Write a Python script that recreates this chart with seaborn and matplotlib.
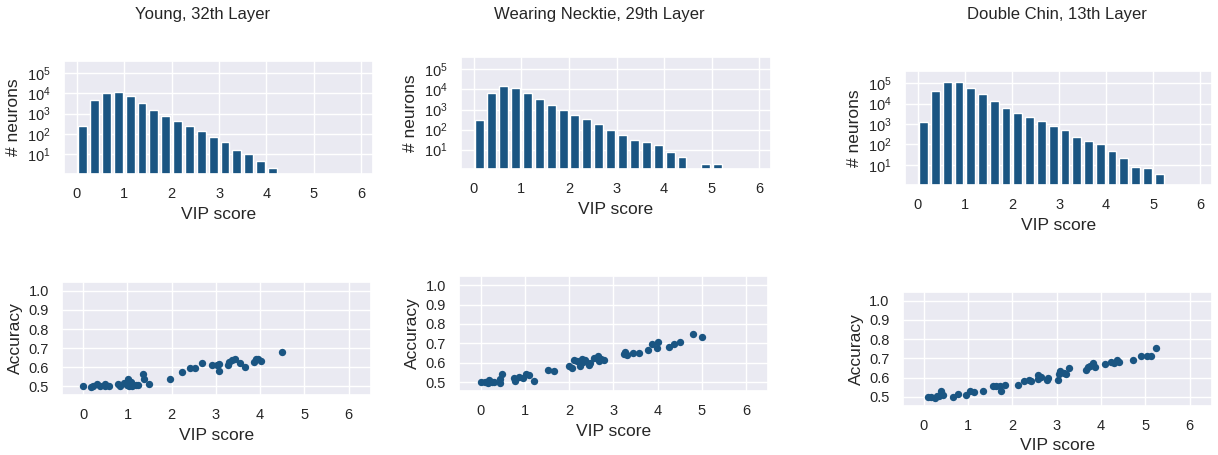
import numpy as np
import pandas as pd
import seaborn as sns
import matplotlib
matplotlib.use("Agg")
import matplotlib.pyplot as plt

# -------------------------
# Data
# -------------------------
titles = ["Young, 32th Layer", "Wearing Necktie, 29th Layer", "Double Chin, 13th Layer"]
bin_width = 0.25

# neuron counts per VIP-score bin (bins of 0.25 starting at 0)
young_counts = [235, 4600, 10700, 11000, 6900, 3400, 1500, 740, 410, 235,
                145, 69, 38, 16, 10, 4.4, 2]
necktie_counts = [295, 6800, 14700, 11600, 6800, 3400, 1650, 930, 520, 340,
                  200, 100, 56, 32, 25, 18, 7.4, 4.2, 0, 2, 2]
chin_counts = [1230, 39000, 112000, 108000, 57000, 30000, 12700, 6000, 3600, 2100,
               1380, 780, 500, 245, 150, 103, 50, 21, 8.3, 7.4, 3.6]

# VIP score vs accuracy
young_vip = [0.0, 0.18, 0.23, 0.32, 0.39, 0.49, 0.5, 0.59, 0.78, 0.84, 0.92, 0.99,
             1.02, 1.03, 1.07, 1.1, 1.2, 1.24, 1.35, 1.37, 1.49, 1.97, 2.23, 2.41,
             2.53, 2.68, 2.91, 3.02, 3.08, 3.06, 3.27, 3.29, 3.36, 3.44, 3.55, 3.65,
             3.85, 3.91, 3.96, 4.02, 4.49]
young_acc = [0.50, 0.495, 0.505, 0.512, 0.50, 0.512, 0.50, 0.502, 0.512, 0.50, 0.517, 0.509,
             0.538, 0.50, 0.522, 0.50, 0.509, 0.509, 0.563, 0.538, 0.514, 0.538, 0.578, 0.596,
             0.599, 0.622, 0.613, 0.613, 0.583, 0.618, 0.610, 0.630, 0.636, 0.644, 0.622, 0.604,
             0.629, 0.646, 0.644, 0.634, 0.679]

necktie_vip = [0.0, 0.09, 0.16, 0.2, 0.25, 0.3, 0.44, 0.45, 0.49, 0.76, 0.78, 0.87,
               0.95, 1.02, 1.1, 1.21, 1.52, 1.66, 2.0, 2.07, 2.11, 2.17, 2.24, 2.29,
               2.32, 2.35, 2.44, 2.48, 2.56, 2.65, 2.67, 2.71, 2.78, 3.23, 3.27, 3.3,
               3.45, 3.57, 3.79, 3.87, 3.98, 4.01, 4.26, 4.37, 4.5, 4.8, 5.01]
necktie_acc = [0.50, 0.50, 0.497, 0.51, 0.50, 0.50, 0.497, 0.514, 0.542, 0.519, 0.507, 0.525,
               0.52, 0.542, 0.534, 0.508, 0.564, 0.559, 0.581, 0.575, 0.615, 0.61, 0.585, 0.619,
               0.602, 0.612, 0.586, 0.598, 0.622, 0.632, 0.607, 0.620, 0.615, 0.646, 0.653, 0.642,
               0.649, 0.649, 0.666, 0.695, 0.678, 0.707, 0.683, 0.695, 0.707, 0.746, 0.731]

chin_vip = [0.09, 0.17, 0.24, 0.29, 0.35, 0.39, 0.43, 0.65, 0.77, 0.94, 1.03, 1.12,
            1.34, 1.55, 1.63, 1.72, 1.74, 1.82, 2.13, 2.27, 2.38, 2.42, 2.57, 2.58,
            2.64, 2.79, 2.81, 3.02, 3.04, 3.07, 3.17, 3.22, 3.28, 3.65, 3.71, 3.76,
            3.81, 3.86, 4.08, 4.23, 4.29, 4.35, 4.4, 4.72, 4.91, 5.03, 5.12, 5.25]
chin_acc = [0.497, 0.497, 0.493, 0.503, 0.507, 0.53, 0.509, 0.497, 0.517, 0.512, 0.53, 0.524,
            0.531, 0.554, 0.557, 0.559, 0.533, 0.562, 0.564, 0.583, 0.587, 0.582, 0.595, 0.616,
            0.602, 0.587, 0.599, 0.59, 0.617, 0.637, 0.625, 0.617, 0.651, 0.639, 0.653, 0.663,
            0.674, 0.653, 0.670, 0.682, 0.677, 0.694, 0.682, 0.691, 0.715, 0.714, 0.714, 0.752]

all_counts = [young_counts, necktie_counts, chin_counts]
all_vip = [young_vip, necktie_vip, chin_vip]
all_acc = [young_acc, necktie_acc, chin_acc]

# -------------------------
# Style
# -------------------------
sns.set_theme(style="darkgrid")
plt.rcParams["font.family"] = ["Liberation Sans", "DejaVu Sans"]
color = "#1a5582"

W, H = 1218, 455
fig = plt.figure(figsize=(W / 100, H / 100), dpi=100)


def add_ax(left, right, top, bottom):
    return fig.add_axes([left / W, 1 - bottom / H, (right - left) / W, (bottom - top) / H])


# pixel boxes (left, right, top, bottom) for each panel
hist_boxes = [(64, 372.7, 60.7, 174), (461, 770.7, 57.3, 169.3), (905, 1211.7, 70.7, 185)]
scat_boxes = [(62, 370.7, 281.7, 395.3), (459.3, 768.3, 276, 391), (902.7, 1211.7, 291.7, 405.7)]
title_x = [203, 599, 1057]

for i in range(3):
    counts = all_counts[i]
    centers = [(k + 0.5) * bin_width for k in range(len(counts))]
    hist_df = pd.DataFrame({"vip": centers, "n": counts})

    ax = add_ax(*hist_boxes[i])
    sns.histplot(data=hist_df, x="vip", weights="n", binwidth=bin_width,
                 binrange=(0, len(counts) * bin_width), shrink=0.75,
                 color=color, alpha=1, edgecolor="white", linewidth=1, ax=ax)
    ax.set_yscale("log")
    ax.set_ylim(1.05, 4e5)
    ax.set_xlim(-0.27, 6.24)
    ax.set_xticks(range(7))
    ax.set_yticks([1e1, 1e2, 1e3, 1e4, 1e5])
    ax.minorticks_off()
    ax.set_xlabel("VIP score", fontsize=12.5)
    ax.set_ylabel("# neurons", fontsize=12.5)
    ax.tick_params(labelsize=10.5)

    scat_df = pd.DataFrame({"vip": all_vip[i], "acc": all_acc[i]})
    ax2 = add_ax(*scat_boxes[i])
    sns.scatterplot(data=scat_df, x="vip", y="acc", color=color, s=28,
                    linewidth=0, ax=ax2)
    ax2.set_xlim(-0.48, 6.5)
    ax2.set_ylim(0.454, 1.047)
    ax2.set_xticks(range(7))
    ax2.set_yticks([0.5, 0.6, 0.7, 0.8, 0.9, 1.0])
    ax2.set_yticklabels(["0.5", "0.6", "0.7", "0.8", "0.9", "1.0"])
    ax2.set_xlabel("VIP score", fontsize=12.5)
    ax2.set_ylabel("Accuracy", fontsize=12.5)
    ax2.tick_params(labelsize=10.5)

    fig.text(title_x[i] / W, 1 - 15 / H, titles[i], ha="center", va="center", fontsize=12)

fig.savefig("out.png", dpi=100)
